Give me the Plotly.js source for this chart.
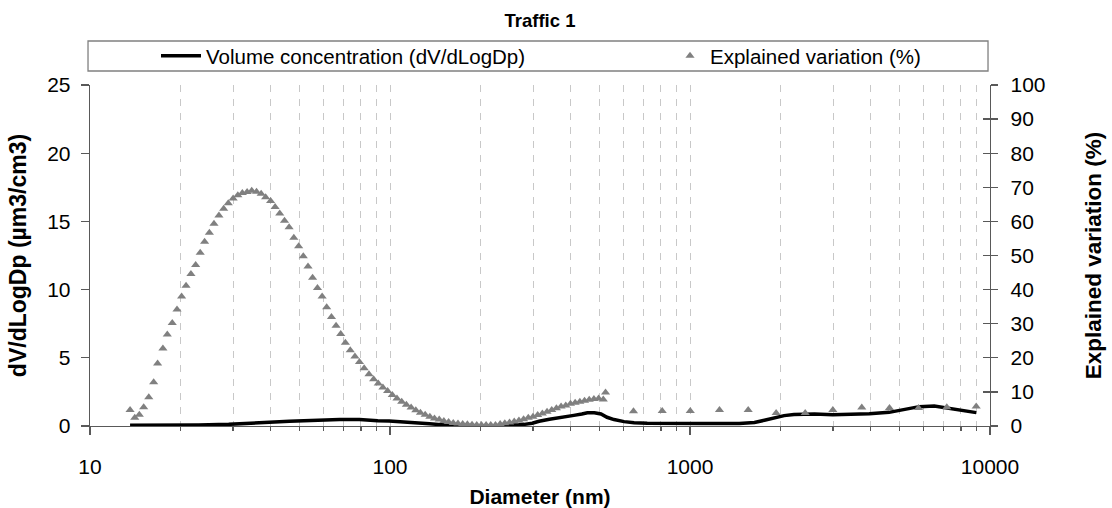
<!DOCTYPE html>
<html>
<head>
<meta charset="utf-8">
<script src="https://cdn.plot.ly/plotly-3.0.1.min.js"></script>
<style>html,body{margin:0;padding:0;background:#fff;}#chart{width:1112px;height:508px;}</style>
</head>
<body>
<div id="chart"></div>
<script>
// Explained variation (%) — SMPS channels (dense) and coarse channels (sparse)
var smpsDiameter = [13.6,14.1,14.6,15.1,15.7,16.3,16.8,17.5,18.1,18.8,19.5,20.2,20.9,21.7,22.5,23.3,24.1,25.0,25.9,26.9,27.9,28.9,30.0,31.1,32.2,33.4,34.6,35.9,37.2,38.5,40.0,41.4,42.9,44.5,46.1,47.8,49.6,51.4,53.3,55.2,57.3,59.4,61.5,63.8,66.1,68.5,71.0,73.7,76.4,79.1,82.0,85.1,88.2,91.4,94.7,98.2,101.8,105.5,109.4,113.4,117.6,121.9,126.3,131.0,135.8,140.7,145.9,151.2,156.8,162.5,168.5,174.7,181.1,187.7,194.6,201.7,209.1,216.7,224.7,232.9,241.4,250.3,259.5,269.0,278.8,289.0,299.6,310.6,322.0,333.8,346.0,358.7,371.8,385.4,399.5,414.2,429.4,445.1,461.4,478.3,495.8,514.0,523.0];
var smpsExplained = [4.7,2.4,3.3,5.5,8.4,12.8,18.3,22.7,26.8,30.2,34.2,38.0,41.1,44.6,47.2,50.8,54.0,56.7,59.3,61.7,63.7,65.3,66.7,67.7,68.3,68.6,69.0,68.7,68.1,67.1,66.0,64.2,62.3,60.2,58.3,55.2,52.7,49.8,46.8,43.5,40.5,38.0,34.8,32.0,29.4,27.0,24.4,22.2,20.4,18.8,16.9,15.2,13.7,12.5,11.3,10.3,9.1,8.1,7.1,6.2,5.4,4.6,3.9,3.3,2.7,2.2,1.9,1.5,1.2,0.9,0.7,0.6,0.5,0.4,0.3,0.3,0.3,0.3,0.3,0.6,0.8,1.0,1.3,1.6,2.0,2.4,2.7,3.2,3.7,4.2,4.7,5.2,5.7,6.0,6.5,6.8,7.1,7.4,7.7,7.9,8.1,7.8,9.8];
var coarseDiameter = [648,808,1002,1254,1563,1937,2421,2993,3738,4624,5777,7178,8995];
var coarseExplained = [4.3,4.4,4.4,4.7,4.7,3.8,3.8,4.7,5.4,5.3,5.3,5.5,5.7];

// Volume concentration dV/dLogDp (µm3/cm3)
var volDiameter = [13.6,17,23,29,32.6,36.7,41.2,46.2,51.9,58.3,67.9,79.1,87.5,91,99.4,107,120.6,135.4,152,170.5,198,231,259,280,298,314,340,366,389,410,436,455,480,505,529,558,603,651,720,794,1080,1460,1640,1770,1910,2060,2220,2600,2990,3400,3960,4610,5170,5810,6520,7200,8070,9000];
var volValue = [0.05,0.05,0.08,0.12,0.2,0.25,0.3,0.35,0.4,0.45,0.47,0.47,0.45,0.38,0.36,0.3,0.24,0.16,0.08,0.03,0.01,0.02,0.06,0.12,0.2,0.35,0.5,0.6,0.65,0.78,0.88,0.97,0.97,0.88,0.64,0.47,0.32,0.24,0.2,0.18,0.18,0.18,0.26,0.42,0.62,0.76,0.84,0.88,0.83,0.84,0.9,1.0,1.2,1.42,1.47,1.3,1.12,0.98];

var xTickVals = [10,100,1000,10000];
var xTickText = ['10','100','1000','10000'];
var xMinorVals = [20,30,40,50,60,70,80,90,200,300,400,500,600,700,800,900,2000,3000,4000,5000,6000,7000,8000,9000];
var yLeftTicks = [0,5,10,15,20,25];
var yRightTicks = [0,10,20,30,40,50,60,70,80,90,100];

var FONT = 'Liberation Sans, Arial, sans-serif';
var axisColor = '#595959';

var explainedAll = smpsDiameter.concat(coarseDiameter);
var explainedVals = smpsExplained.concat(coarseExplained);

var traces = [
  {
    x: volDiameter, y: volValue, type: 'scatter', mode: 'lines',
    name: 'Volume concentration (dV/dLogDp)',
    line: {color: '#000000', width: 3.5},
    xaxis: 'x', yaxis: 'y', legend: 'legend'
  },
  {
    x: explainedAll, y: explainedVals, type: 'scatter', mode: 'markers',
    name: 'Explained variation (%)',
    marker: {symbol: 'triangle-up', size: 8, color: '#808080', line: {width: 0}},
    xaxis: 'x', yaxis: 'y2', legend: 'legend2'
  },
  {
    x: [], y: [], type: 'scatter', mode: 'markers', showlegend: false,
    xaxis: 'x', yaxis: 'y3', hoverinfo: 'skip'
  }
];

var legendY = (426 - 36) / 341;

var layout = {
  width: 1112, height: 508,
  margin: {l: 90, r: 122, t: 85, b: 82},
  paper_bgcolor: '#ffffff', plot_bgcolor: '#ffffff',
  font: {family: FONT, size: 21, color: '#000000'},
  showlegend: true,
  title: {
    text: '<b>Traffic 1</b>', font: {family: FONT, size: 18.5, color: '#000'},
    x: 0.5, xref: 'paper', y: 1 - 21/508, yref: 'container', yanchor: 'middle'
  },
  legend: {
    orientation: 'h', x: (156-90)/900, xanchor: 'left', y: legendY, yanchor: 'top',
    font: {family: FONT, size: 20.5, color: '#000'}, itemwidth: 40,
    bgcolor: 'rgba(0,0,0,0)', borderwidth: 0
  },
  legend2: {
    orientation: 'h', x: (670-90)/900, xanchor: 'left', y: legendY, yanchor: 'top',
    font: {family: FONT, size: 20.5, color: '#000'},
    bgcolor: 'rgba(0,0,0,0)', borderwidth: 0
  },
  shapes: [{
    type: 'rect', xref: 'paper', yref: 'paper',
    x0: -0.0022, x1: 0.9978, y0: (426-71)/341, y1: (426-41)/341,
    line: {color: '#808080', width: 1.3}, fillcolor: 'rgba(0,0,0,0)', layer: 'below'
  }],
  xaxis: {
    type: 'log', range: [1, 4], tickvals: xTickVals, ticktext: xTickText,
    showline: true, linecolor: axisColor, linewidth: 1.3, mirror: false,
    ticks: 'outside', ticklen: 8, tickcolor: axisColor, tickwidth: 1.3,
    showgrid: true, gridcolor: '#c8c8c8', gridwidth: 1, griddash: '7px,7px',
    minor: {tickvals: xMinorVals,
            ticks: 'outside', ticklen: 4, tickcolor: axisColor, showgrid: true, gridcolor: '#c8c8c8', griddash: '7px,7px', gridwidth: 1},
    zeroline: false, tickfont: {family: FONT, size: 21}, ticklabelstandoff: 13,
    title: {text: '<b>Diameter (nm)</b>', font: {family: FONT, size: 21}, standoff: 21}
  },
  yaxis: {
    range: [0, 25], tickvals: yLeftTicks, showline: true, linecolor: axisColor, linewidth: 1.3,
    ticks: 'outside', ticklen: 8, tickcolor: axisColor, tickwidth: 1.3,
    showgrid: false, zeroline: false, tickfont: {family: FONT, size: 21}, ticklabelstandoff: 6,
    title: {text: '<b>dV/dLogDp (µm3/cm3)</b>', font: {family: FONT, size: 23}, standoff: 14}
  },
  yaxis2: {
    range: [0, 100], tickvals: yRightTicks, overlaying: 'y', side: 'right', anchor: 'x',
    showline: true, linecolor: axisColor, linewidth: 1.3,
    ticks: 'outside', ticklen: 7, tickcolor: axisColor, tickwidth: 1.3,
    showgrid: false, zeroline: false, tickfont: {family: FONT, size: 21}, ticklabelstandoff: 8,
    title: {text: '<b>Explained variation (%)</b>', font: {family: FONT, size: 22.5}, standoff: 40}
  },
  yaxis3: {
    range: [0, 100], tickvals: yRightTicks, overlaying: 'y', side: 'right', anchor: 'x',
    showline: false, ticks: 'inside', ticklen: 7, tickcolor: axisColor, tickwidth: 1.3,
    showticklabels: false, showgrid: false, zeroline: false
  }
};

Plotly.newPlot('chart', traces, layout, {displayModeBar: false, staticPlot: true});
</script>
</body>
</html>
